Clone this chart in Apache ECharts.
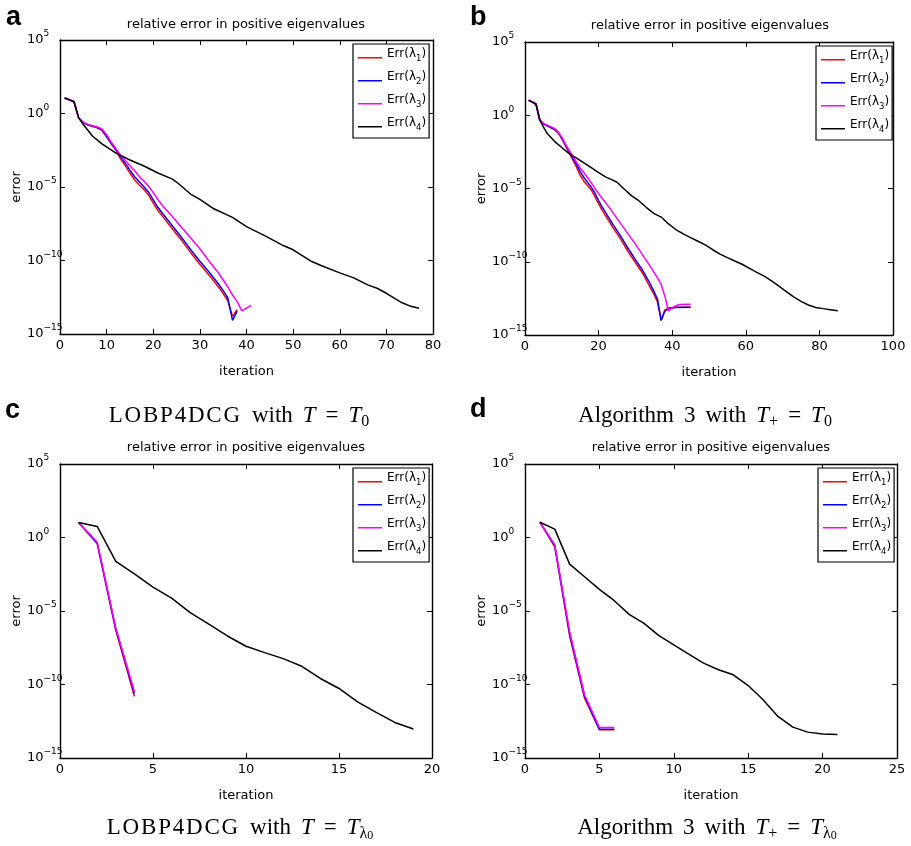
<!DOCTYPE html>
<html>
<head>
<meta charset="utf-8">
<script src="https://cdn.jsdelivr.net/npm/echarts@6/dist/echarts.min.js"></script>
<style>
html, body { margin: 0; padding: 0; background: #fff; }
#chart { width: 911px; height: 846px; }
</style>
</head>
<body>
<div id="chart"></div>
<script>
// values are [iteration, log10(relative error)]

// a: LOBP4DCG with T = T0
var a1 = [[1,1.05],[2,0.93],[3,0.8],[4,-0.3],[5,-0.62],[6,-0.78],[7,-0.88],[8,-0.98],[9,-1.15],[10,-1.6],[11,-2.07],[12,-2.5],[13,-3.1],[14,-3.55],[15,-4.05],[16,-4.52],[17,-4.85],[18,-5.17],[19,-5.55],[20,-6.1],[21,-6.6],[22,-7.0],[24,-7.8],[26,-8.6],[28,-9.45],[30,-10.25],[32,-11.0],[34,-11.8],[35,-12.25],[36,-12.75],[37,-13.8],[38,-13.35]];
var a2 = [[1,1.05],[2,0.93],[3,0.8],[4,-0.3],[5,-0.61],[6,-0.77],[7,-0.86],[8,-0.96],[9,-1.12],[10,-1.55],[11,-2.02],[12,-2.45],[13,-2.95],[14,-3.38],[15,-3.85],[16,-4.3],[17,-4.65],[18,-4.98],[19,-5.35],[20,-5.88],[21,-6.38],[22,-6.8],[24,-7.6],[26,-8.4],[28,-9.25],[30,-10.05],[32,-10.8],[34,-11.6],[35,-12.05],[36,-12.55],[37,-14.07],[38,-13.45]];
var a3 = [[1,1.08],[2,0.96],[3,0.82],[4,-0.28],[5,-0.6],[6,-0.74],[7,-0.83],[8,-0.92],[9,-1.05],[10,-1.45],[11,-1.95],[12,-2.4],[13,-2.82],[14,-3.18],[15,-3.55],[16,-3.9],[17,-4.28],[18,-4.6],[19,-4.95],[20,-5.38],[21,-5.85],[22,-6.28],[24,-6.98],[26,-7.72],[28,-8.45],[30,-9.2],[32,-10.05],[34,-10.85],[36,-11.8],[37,-12.35],[38,-12.8],[39,-13.43],[41,-13.05]];
var a4 = [[1,1.05],[2,0.93],[3,0.8],[4,-0.3],[5,-0.75],[7,-1.55],[9,-2.07],[12,-2.7],[15,-3.16],[18,-3.57],[21,-4.05],[24,-4.45],[25,-4.66],[28,-5.48],[30,-5.84],[33,-6.48],[37,-7.07],[40,-7.7],[44,-8.32],[48,-9.0],[50,-9.27],[54,-10.07],[56,-10.34],[60,-10.84],[63,-11.18],[66,-11.66],[68,-11.89],[70,-12.23],[73,-12.82],[75,-13.09],[77,-13.25]];

// b: Algorithm 3 with T+ = T0
var b1 = [[1,1.02],[2,0.9],[3,0.75],[4,-0.32],[5,-0.6],[6,-0.72],[7,-0.85],[8,-0.97],[9,-1.2],[10,-1.6],[11,-2.1],[12,-2.55],[13,-3.05],[14,-3.55],[15,-4.1],[16,-4.5],[17,-4.8],[18,-5.1],[19,-5.55],[20,-6.05],[21,-6.5],[22,-6.9],[24,-7.7],[26,-8.45],[28,-9.3],[30,-10.05],[32,-10.8],[34,-11.75],[35,-12.2],[36,-12.75],[37,-14.0],[38,-13.3],[39,-13.15],[41,-13.11],[45,-13.1]];
var b2 = [[1,1.02],[2,0.9],[3,0.75],[4,-0.32],[5,-0.58],[6,-0.7],[7,-0.83],[8,-0.95],[9,-1.17],[10,-1.56],[11,-2.03],[12,-2.47],[13,-2.92],[14,-3.35],[15,-3.85],[16,-4.25],[17,-4.58],[18,-4.9],[19,-5.32],[20,-5.82],[21,-6.27],[22,-6.68],[24,-7.5],[26,-8.25],[28,-9.08],[30,-9.85],[32,-10.6],[34,-11.5],[35,-12.0],[36,-12.55],[37,-14.0],[38,-13.38],[39,-13.18],[41,-13.12],[45,-13.1]];
var b3 = [[1,1.05],[2,0.93],[3,0.78],[4,-0.28],[5,-0.55],[6,-0.67],[7,-0.78],[8,-0.9],[9,-1.12],[10,-1.5],[11,-1.97],[12,-2.4],[13,-2.8],[14,-3.2],[15,-3.6],[16,-3.92],[17,-4.27],[18,-4.6],[19,-4.98],[20,-5.35],[21,-5.68],[22,-6.0],[24,-6.68],[26,-7.4],[28,-8.1],[30,-8.8],[32,-9.55],[34,-10.3],[36,-11.1],[37,-11.55],[38,-12.35],[39,-13.36],[40,-13.15],[41,-13.0],[42,-12.92],[45,-12.9]];
var b4 = [[1,1.02],[2,0.9],[3,0.75],[4,-0.32],[5,-0.8],[6,-1.23],[8,-1.78],[10,-2.2],[12,-2.62],[14,-2.93],[16,-3.25],[18,-3.58],[20,-3.92],[22,-4.22],[24,-4.45],[25,-4.57],[27,-5.05],[29,-5.5],[31,-5.85],[33,-6.3],[35,-6.7],[37,-6.95],[39,-7.42],[41,-7.8],[43,-8.1],[45,-8.35],[47,-8.6],[49,-8.85],[51,-9.18],[53,-9.48],[55,-9.72],[57,-9.95],[59,-10.17],[61,-10.45],[63,-10.73],[65,-10.98],[67,-11.3],[69,-11.66],[71,-12.04],[73,-12.4],[75,-12.7],[77,-12.95],[79,-13.12],[81,-13.2],[83,-13.27],[85,-13.34]];

// c: LOBP4DCG with T = T_lambda0
var c1 = [[1,1.02],[2,-0.43],[3,-6.31],[4,-10.81]];
var c2 = [[1,1.02],[2,-0.37],[3,-6.23],[4,-10.62]];
var c3 = [[1,1.02],[2,-0.32],[3,-6.15],[4,-10.48]];
var c4 = [[1,1.02],[2,0.75],[3,-1.63],[4,-2.47],[5,-3.37],[6,-4.12],[7,-5.11],[8,-5.9],[9,-6.7],[10,-7.4],[11,-7.83],[12,-8.24],[13,-8.76],[14,-9.59],[15,-10.27],[16,-11.18],[17,-11.9],[18,-12.58],[19,-13.03]];

// d: Algorithm 3 with T+ = T_lambda0
var d1 = [[1,1.04],[2,-0.63],[3,-6.7],[4,-10.93],[5,-13.08],[6,-13.08]];
var d2 = [[1,1.04],[2,-0.55],[3,-6.55],[4,-10.8],[5,-13.05],[6,-13.05]];
var d3 = [[1,1.04],[2,-0.48],[3,-6.4],[4,-10.7],[5,-12.92],[6,-12.92]];
var d4 = [[1,1.04],[2,0.57],[3,-1.81],[4,-2.67],[5,-3.53],[6,-4.3],[7,-5.23],[8,-5.84],[9,-6.67],[10,-7.31],[11,-7.94],[12,-8.55],[13,-9.0],[14,-9.34],[15,-10.07],[16,-11.04],[17,-12.17],[18,-12.9],[19,-13.24],[20,-13.37],[21,-13.4]];

var seriesNames = ['1', '2', '3', '4'];     // Err(lambda_k)
var xMaxes = [80, 100, 20, 25];
var xSteps = [10, 20, 5, 5];
var yMin = -15, yMax = 5, yStep = 5;        // exponents of 10
var plotTitle = 'relative error in positive eigenvalues';
var panelLetters = ['a', 'b', 'c', 'd'];

// caption text, rich-text tokens: c = spaced capitals, g = word gap
function spaced(word) {
    return word.split('').map(function (ch) { return '{c|' + ch + '}'; }).join('');
}
var lobpName = spaced('LOBP4DCG');
var algName = '{r|Algorithm}{g| }{r|3}';
var captions = [
    lobpName + '{g| }{r|with}{g| }{i|T}{g| }{r|=}{g| }{i|T}{s|0}',
    algName + '{g| }{r|with}{g| }{i|T}{s|+}{g| }{r|=}{g| }{i|T}{s|0}',
    lobpName + '{g| }{r|with}{g| }{i|T}{g| }{r|=}{g| }{i|T}{s|λ}{ss|0}',
    algName + '{g| }{r|with}{g| }{i|T}{s|+}{g| }{r|=}{g| }{i|T}{s|λ}{ss|0}'
];

var panelData = [[a1, a2, a3, a4], [b1, b2, b3, b4], [c1, c2, c3, c4], [d1, d2, d3, d4]];

var colors = ['#ff0000', '#0000ff', '#ff00ff', '#000000'];
var sans = 'DejaVu Sans';
var serif = 'Liberation Serif';

var grids = [
    {left: 60, top: 40, width: 373, height: 294},
    {left: 525, top: 42, width: 368, height: 293},
    {left: 60, top: 464, width: 372, height: 294},
    {left: 525, top: 464, width: 372, height: 294}
];
var legendPos = [[353, 44], [816, 46], [353, 468], [818, 468]];
var titlePos = [[246, 25], [710, 26], [246, 448], [711, 448]];
var letterPos = [[6, 18], [470, 18], [5, 411], [470, 410]];
var captionPos = [[239, 416], [705, 416], [240, 828], [707, 828]];

function yLabel(v) {
    var e = v < 0 ? '\u2212' + (-v) : '' + v;
    return '{b|10}{s|' + e + '}';
}

function legendLabel(name) {
    return '{b|Err(λ}{s|' + name + '}{b|)}';
}

var axisLine = {show: true, onZero: false, lineStyle: {color: '#000', width: 1.4}};
var axisTick = {show: true, inside: true, length: 5, lineStyle: {color: '#000', width: 1}};

var xAxes = [], yAxes = [], series = [], legends = [], graphics = [];

grids.forEach(function (g, p) {
    xAxes.push({
        gridIndex: p, type: 'value', position: 'bottom',
        min: 0, max: xMaxes[p], interval: xSteps[p],
        axisLine: axisLine, axisTick: axisTick, splitLine: {show: false},
        axisLabel: {color: '#000', fontFamily: sans, fontSize: 13, margin: 5},
        name: 'iteration', nameLocation: 'middle', nameGap: 31,
        nameTextStyle: {color: '#000', fontFamily: sans, fontSize: 13}
    });
    xAxes.push({
        gridIndex: p, type: 'value', position: 'top',
        min: 0, max: xMaxes[p], interval: xSteps[p],
        axisLine: axisLine, axisTick: axisTick, splitLine: {show: false},
        axisLabel: {show: false}
    });
    yAxes.push({
        gridIndex: p, type: 'value', position: 'left',
        min: yMin, max: yMax, interval: yStep,
        axisLine: axisLine, axisTick: axisTick, splitLine: {show: false},
        axisLabel: {
            margin: 33, align: 'left', formatter: yLabel,
            rich: {
                b: {color: '#000', fontFamily: sans, fontSize: 13, lineHeight: 21, verticalAlign: 'middle'},
                s: {color: '#000', fontFamily: sans, fontSize: 9, lineHeight: 11, verticalAlign: 'top'}
            }
        },
        name: 'error', nameLocation: 'middle', nameGap: 37,
        nameTextStyle: {color: '#000', fontFamily: sans, fontSize: 13}
    });
    yAxes.push({
        gridIndex: p, type: 'value', position: 'right',
        min: yMin, max: yMax, interval: yStep,
        axisLine: axisLine, axisTick: axisTick, splitLine: {show: false},
        axisLabel: {show: false}
    });

    panelData[p].forEach(function (d, k) {
        series.push({
            type: 'line', name: seriesNames[k], data: d,
            xAxisIndex: 2 * p, yAxisIndex: 2 * p,
            showSymbol: false, symbol: 'none', silent: true,
            lineStyle: {color: colors[k], width: 1.5},
            itemStyle: {color: colors[k]}
        });
    });

    legends.push({
        left: legendPos[p][0], top: legendPos[p][1], orient: 'vertical',
        data: seriesNames, selectedMode: false,
        icon: 'path://M0,0M0,18M0,12L24,12L24,13.5L0,13.5Z',
        itemWidth: 24, itemHeight: 18, itemGap: 5,
        padding: [1, 3, 6, 5],
        borderColor: '#000', borderWidth: 1.2, backgroundColor: '#fff',
        formatter: legendLabel,
        textStyle: {
            rich: {
                b: {color: '#000', fontFamily: sans, fontSize: 12, lineHeight: 18, verticalAlign: 'middle'},
                s: {color: '#000', fontFamily: sans, fontSize: 8.5, lineHeight: 9, verticalAlign: 'bottom'}
            }
        }
    });

    graphics.push({
        type: 'text', x: titlePos[p][0], y: titlePos[p][1],
        style: {text: plotTitle, fontFamily: sans, fontSize: 13, fill: '#000', align: 'center', verticalAlign: 'middle'}
    });
    graphics.push({
        type: 'text', x: letterPos[p][0], y: letterPos[p][1],
        style: {text: panelLetters[p], fontFamily: 'Liberation Sans', fontWeight: 'bold', fontSize: 27, fill: '#000', align: 'left', verticalAlign: 'middle'}
    });
    graphics.push({
        type: 'text', x: captionPos[p][0], y: captionPos[p][1],
        style: {
            text: captions[p], align: 'center', verticalAlign: 'middle',
            rich: {
                c: {fontFamily: serif, fontSize: 23, fill: '#000', lineHeight: 28, verticalAlign: 'middle', padding: [0, 1.8, 0, 0]},
                r: {fontFamily: serif, fontSize: 23, fill: '#000', lineHeight: 28, verticalAlign: 'middle'},
                i: {fontFamily: serif, fontSize: 23, fontStyle: 'italic', fill: '#000', lineHeight: 28, verticalAlign: 'middle'},
                g: {fontFamily: serif, fontSize: 23, lineHeight: 28, width: 10},
                s: {fontFamily: serif, fontSize: 16, fill: '#000', lineHeight: 16, verticalAlign: 'bottom'},
                ss: {fontFamily: serif, fontSize: 12, fill: '#000', lineHeight: 10, verticalAlign: 'bottom'}
            }
        }
    });
});

var chart = echarts.init(document.getElementById('chart'));
chart.setOption({
    animation: false,
    backgroundColor: '#fff',
    grid: grids,
    xAxis: xAxes,
    yAxis: yAxes,
    legend: legends,
    series: series,
    graphic: graphics
});
</script>
</body>
</html>
